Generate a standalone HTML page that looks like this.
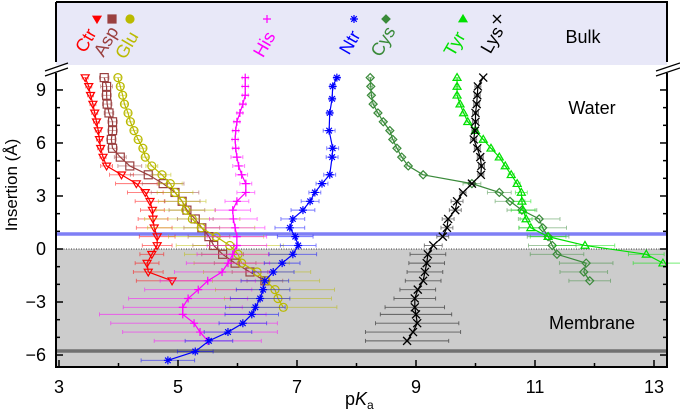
<!DOCTYPE html>
<html><head><meta charset="utf-8"><style>
html,body{margin:0;padding:0;background:#fff;}
svg{display:block;font-family:"Liberation Sans",sans-serif;}
</style></head><body>
<svg id="chart" width="680" height="410" viewBox="0 0 680 410" xmlns="http://www.w3.org/2000/svg">
<rect x="56" y="2" width="611" height="63" fill="#e8e8f8"/>
<rect x="56" y="249" width="611" height="118" fill="#cccccc"/>
<line x1="56" y1="249" x2="667" y2="249" stroke="#000" stroke-width="0.8" stroke-dasharray="1,1.5"/>
<line x1="56" y1="234" x2="667" y2="234" stroke="#7f7ff5" stroke-width="3.5"/>
<line x1="56" y1="351" x2="667" y2="351" stroke="#707070" stroke-width="3.5"/>
<g id="series"></g>
<g id="axes"></g>
<text x="583" y="43" font-size="18" text-anchor="middle">Bulk</text>
<text x="592" y="114" font-size="18" text-anchor="middle">Water</text>
<text x="592" y="329" font-size="18" text-anchor="middle">Membrane</text>
<text transform="translate(17,185) rotate(-90)" font-size="17" text-anchor="middle">Insertion (Å)</text>
<text x="345" y="405" font-size="18">p<tspan font-style="italic">K</tspan><tspan font-size="12" dy="4">a</tspan></text>
</svg>
<script>
const xTicks=[3,5,7,9,11,13];
const yTicks=[9,6,3,0,-3,-6];
const yTickLabels=["9","6","3","0","\u22123","\u22126"];
const names=["Ctr","Asp","Glu","His","Ntr","Cys","Tyr","Lys"];
const colors=["#ff0000","#9a4040","#baba00","#ff00ff","#0000ff","#3a8a3a","#00e000","#000000"];
const ctrZ=[9.7,9.2,8.7,8.2,7.7,7.2,6.7,6.2,5.7,5.2,4.7,4.2,3.7,3.2,2.7,2.2,1.7,1.2,0.7,0.2,-0.3,-0.8,-1.3,-1.8];
const ctrX=[3.44,3.5,3.53,3.57,3.6,3.63,3.66,3.68,3.7,3.74,3.8,4.05,4.3,4.45,4.53,4.57,4.58,4.6,4.65,4.65,4.56,4.48,4.5,4.9];
const ctrE=[0.05,0.05,0.05,0.05,0.05,0.05,0.05,0.05,0.05,0.05,0.1,0.2,0.35,0.3,0.25,0.2,0.25,0.3,0.3,0.25,0.2,0.2,0.25,0.6];
const aspZ=[9.7,9.2,8.7,8.2,7.7,7.2,6.7,6.2,5.7,5.2,4.7,4.2,3.7,3.2,2.7,2.2,1.7,1.2,0.7,0.2,-0.3,-0.8,-1.3,-1.8];
const aspX=[3.76,3.8,3.8,3.81,3.84,3.9,3.9,3.88,3.9,4.03,4.19,4.5,4.75,4.95,5.07,5.15,5.29,5.4,5.52,5.6,5.75,5.96,6.21,6.46];
const aspE=[0.08,0.1,0.08,0.08,0.08,0.08,0.08,0.08,0.08,0.1,0.2,0.3,0.35,0.4,0.3,0.3,0.3,0.3,0.35,0.35,0.35,0.35,0.3,0.3];
const gluZ=[9.7,9.2,8.7,8.2,7.7,7.2,6.7,6.2,5.7,5.2,4.7,4.2,3.7,3.2,2.7,2.2,1.7,1.2,0.7,0.2,-0.3,-0.8,-1.3,-1.8,-2.3,-2.8,-3.3];
const gluX=[3.99,4.03,4.07,4.1,4.16,4.2,4.26,4.33,4.41,4.45,4.56,4.73,4.87,4.95,5.07,5.13,5.24,5.39,5.64,5.87,6.01,6.07,6.33,6.48,6.63,6.68,6.77];
const gluE=[0.05,0.05,0.05,0.05,0.05,0.05,0.05,0.05,0.05,0.05,0.1,0.15,0.2,0.3,0.4,0.5,0.8,0.9,0.8,0.9,0.9,0.8,0.9,0.9,1.0,0.9,0.9];
const hisZ=[9.7,9.2,8.7,8.2,7.7,7.2,6.7,6.2,5.7,5.2,4.7,4.2,3.7,3.2,2.7,2.2,1.7,1.2,0.7,0.2,-0.3,-0.8,-1.3,-1.8,-2.3,-2.8,-3.3,-3.7,-4.2,-4.7,-5.2];
const hisX=[6.13,6.13,6.13,6.09,6.04,5.99,5.97,5.96,5.97,5.99,6.02,6.07,6.14,6.14,5.99,5.92,5.93,5.96,5.99,5.99,5.92,5.84,5.74,5.5,5.34,5.17,5.08,5.08,5.27,5.37,5.5];
const hisE=[0.05,0.05,0.05,0.05,0.05,0.05,0.05,0.05,0.05,0.1,0.1,0.1,0.1,0.15,0.2,0.3,0.4,0.5,0.5,0.5,0.6,0.7,0.8,0.8,0.9,1.0,1.0,1.4,1.4,1.3,0.9];
const ntrZ=[9.7,9.2,8.5,7.7,6.7,5.7,5.2,4.2,3.7,3.2,2.7,2.2,1.7,1.2,0.7,0.2,-0.3,-0.8,-1.3,-1.8,-2.3,-2.8,-3.3,-3.7,-4.2,-4.7,-5.2,-5.8,-6.3];
const ntrX=[7.67,7.6,7.59,7.55,7.54,7.6,7.59,7.55,7.42,7.3,7.22,7.1,6.93,6.88,6.97,7.02,6.93,6.75,6.6,6.46,6.43,6.38,6.3,6.24,6.09,5.84,5.52,5.29,4.83];
const ntrE=[0.05,0.05,0.05,0.05,0.1,0.1,0.1,0.1,0.1,0.1,0.15,0.2,0.2,0.25,0.3,0.3,0.4,0.3,0.35,0.4,0.45,0.5,0.5,0.45,0.4,0.4,0.4,0.3,0.45];
const cysZ=[9.7,9.2,8.7,8.2,7.7,7.2,6.7,6.2,5.7,5.2,4.7,4.2,3.7,3.2,2.7,2.2,1.7,1.2,0.7,0.2,-0.3,-0.8,-1.3,-1.8];
const cysX=[8.23,8.24,8.25,8.28,8.36,8.45,8.56,8.61,8.68,8.76,8.87,9.12,9.94,10.4,10.58,10.78,11.07,11.13,11.22,11.29,11.37,11.86,11.82,11.92];
const cysE=[0.03,0.03,0.03,0.03,0.03,0.03,0.03,0.03,0.03,0.03,0.03,0.05,0.15,0.2,0.25,0.25,0.35,0.4,0.35,0.4,0.45,0.45,0.4,0.35];
const tyrZ=[9.7,9.2,8.7,8.2,7.7,7.2,6.7,6.2,5.7,5.2,4.7,4.2,3.7,3.2,2.7,2.2,1.7,1.2,0.7,0.2,-0.3,-0.8];
const tyrX=[9.69,9.69,9.69,9.74,9.8,9.87,10.0,10.13,10.26,10.4,10.5,10.6,10.7,10.77,10.78,10.8,10.85,10.93,11.22,11.84,12.87,13.15];
const tyrE=[0.03,0.03,0.03,0.03,0.03,0.03,0.03,0.03,0.03,0.03,0.03,0.05,0.05,0.1,0.15,0.2,0.1,0.2,0.3,0.5,0.3,0.5];
const lysZ=[9.7,9.2,8.7,8.2,7.7,7.2,6.7,6.2,5.7,5.2,4.7,4.2,3.7,3.2,2.7,2.2,1.7,1.2,0.7,0.2,-0.3,-0.8,-1.3,-1.8,-2.3,-2.8,-3.3,-3.7,-4.2,-4.7,-5.2];
const lysX=[10.13,10.04,10.03,10.02,10.0,10.0,9.99,9.97,10.03,10.08,10.1,10.09,9.94,9.79,9.69,9.66,9.54,9.52,9.45,9.29,9.2,9.18,9.15,9.12,9.03,8.98,8.98,9.0,9.02,8.95,8.85];
const lysE=[0.02,0.05,0.05,0.05,0.05,0.05,0.05,0.05,0.05,0.05,0.05,0.05,0.05,0.05,0.1,0.1,0.1,0.1,0.1,0.15,0.3,0.3,0.3,0.3,0.3,0.35,0.5,0.6,0.7,0.8,0.7];
const allZ=[ctrZ,aspZ,gluZ,hisZ,ntrZ,cysZ,tyrZ,lysZ];
const allX=[ctrX,aspX,gluX,hisX,ntrX,cysX,tyrX,lysX];
const allE=[ctrE,aspE,gluE,hisE,ntrE,cysE,tyrE,lysE];

const NS="http://www.w3.org/2000/svg";
function X(v){return 59+(v-3)*59.5;}
function Y(v){return 249-17.67*v;}
function mk(tag,attrs,parent){const e=document.createElementNS(NS,tag);for(const k in attrs)e.setAttribute(k,attrs[k]);parent.appendChild(e);return e;}
const shapes=["tri-down","square","circle","plus","star","diamond","tri-up","cross"];
function marker(g,shape,cx,cy,c,r){
  let e;
  if(shape==="tri-down"){e=mk("polygon",{points:`${cx-r},${cy-r*0.7} ${cx+r},${cy-r*0.7} ${cx},${cy+r}`,fill:"none",stroke:c,"stroke-width":1.2},g);}
  else if(shape==="tri-up"){e=mk("polygon",{points:`${cx-r},${cy+r*0.7} ${cx+r},${cy+r*0.7} ${cx},${cy-r}`,fill:"none",stroke:c,"stroke-width":1.2},g);}
  else if(shape==="square"){e=mk("rect",{x:cx-r,y:cy-r,width:2*r,height:2*r,fill:"none",stroke:c,"stroke-width":1.2},g);}
  else if(shape==="circle"){e=mk("circle",{cx:cx,cy:cy,r:r,fill:"none",stroke:c,"stroke-width":1.2},g);}
  else if(shape==="diamond"){e=mk("polygon",{points:`${cx},${cy-r} ${cx+r},${cy} ${cx},${cy+r} ${cx-r},${cy}`,fill:"none",stroke:c,"stroke-width":1.2},g);}
  else if(shape==="plus"){e=mk("path",{d:`M${cx-r},${cy}H${cx+r}M${cx},${cy-r}V${cy+r}`,stroke:c,"stroke-width":1.2,fill:"none"},g);}
  else if(shape==="cross"){e=mk("path",{d:`M${cx-r},${cy-r}L${cx+r},${cy+r}M${cx-r},${cy+r}L${cx+r},${cy-r}`,stroke:c,"stroke-width":1.3,fill:"none"},g);}
  else {e=mk("path",{d:`M${cx-r},${cy}H${cx+r}M${cx},${cy-r}V${cy+r}M${cx-r*0.7},${cy-r*0.7}L${cx+r*0.7},${cy+r*0.7}M${cx-r*0.7},${cy+r*0.7}L${cx+r*0.7},${cy-r*0.7}`,stroke:c,"stroke-width":1.2,fill:"none"},g);}
  return e;
}
const sg=document.getElementById("series");
for(let s=0;s<names.length;s++){
  const g=mk("g",{},sg);
  
  
  const c=colors[s],Z=allZ[s],V=allX[s],E=allE[s];
  for(let i=0;i<Z.length;i++){
    const y=Y(Z[i]),x1=X(V[i]-E[i]),x2=X(V[i]+E[i]);
    const eb=mk("path",{d:`M${x1},${y}H${x2}M${x1},${y-2}V${y+2}M${x2},${y-2}V${y+2}`,stroke:c,"stroke-width":0.9,"stroke-opacity":0.55,fill:"none"},g);
    
    
  }
  const pts=Z.map((z,i)=>X(V[i])+","+Y(z)).join(" ");
  const pl=mk("polyline",{points:pts,fill:"none",stroke:c,"stroke-width":1.2},g);
  
  
  for(let i=0;i<Z.length;i++){
    const m=marker(g,shapes[s],X(V[i]),Y(Z[i]),c,4);
    
    
  }
}
const legX=[97,112,130,267,354,386,463,497];
const labEnd=[[93,30],[115,28],[135,33],[272,33],[357,32],[392,28],[462,33],[500,28]];
const lg=mk("g",{},document.getElementById("chart"));


for(let s=0;s<names.length;s++){
  const shape=shapes[s];
  const m=marker(lg,shape,legX[s],19,colors[s],4);
  if(shape!=="plus"&&shape!=="cross"&&shape!=="star")m.setAttribute("fill",colors[s]);
  
  
  const t=mk("text",{x:0,y:0,"font-size":18,fill:colors[s],"text-anchor":"end",transform:`translate(${labEnd[s][0]+4},${labEnd[s][1]+3}) rotate(-60)`},lg);
  t.textContent=names[s];
  
  
}
const ax=document.getElementById("axes");
const fr=mk("path",{d:"M56,2H667V62M667,73V367H56V73M56,62V2",fill:"none",stroke:"#000","stroke-width":2},ax);


const br=mk("path",{d:"M45,71L68,63M45,76L68,68M656,71L680,63M656,76L680,68",stroke:"#000","stroke-width":1.2,fill:"none"},ax);


for(let v=3;v<=13;v++){
  const major=(v%2===1);
  const t=mk("line",{x1:X(v),x2:X(v),y1:367,y2:367-(major?7:4),stroke:"#000","stroke-width":1.5},ax);
  
  
}
xTicks.forEach(v=>{
  const t=mk("text",{x:X(v),y:393,"font-size":18,"text-anchor":"middle"},ax);
  t.textContent=String(v);
  
  
});
for(let v=-6;v<=9;v++){
  const major=(v%3===0);
  const len=major?7:4;
  const t1=mk("line",{x1:56,x2:56+len,y1:Y(v),y2:Y(v),stroke:"#000","stroke-width":1.5},ax);
  
  
  const t2=mk("line",{x1:667,x2:667-len,y1:Y(v),y2:Y(v),stroke:"#000","stroke-width":1.5},ax);
  
  
}
yTicks.forEach((v,i)=>{
  const t=mk("text",{x:46,y:Y(v)+6,"font-size":18,"text-anchor":"end"},ax);
  t.textContent=yTickLabels[i];
  
  
});
</script>
</body></html>
